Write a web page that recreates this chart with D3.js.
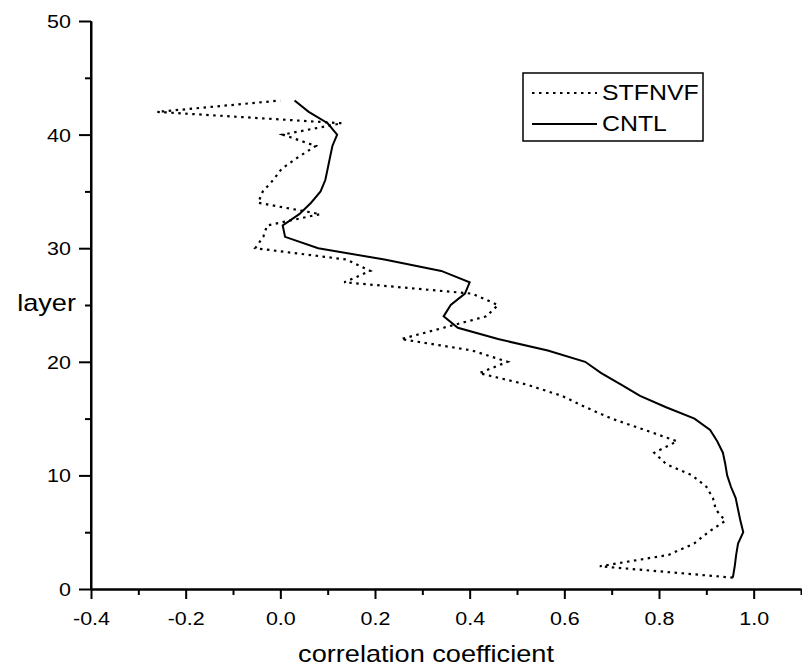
<!DOCTYPE html>
<html lang="en">
<head>
    <meta charset="UTF-8">
    <title>Correlation by layer</title>
    <script src="https://d3js.org/d3.v7.min.js"></script>
    <style>
        body { margin: 0; background: #fff; }
        svg { display: block; font-family: "Liberation Sans", Arial, sans-serif; }
    </style>
</head>
<body>
<svg id="chart"></svg>
<script>
    // layer numbers, bottom to top
    const layers = d3.range(1, 44);

    // correlation coefficient per layer (layer 1 .. 43)
    const cntl = [0.956, 0.96, 0.963, 0.967, 0.978, 0.972, 0.967, 0.962, 0.952, 0.944,
        0.94, 0.935, 0.923, 0.908, 0.875, 0.815, 0.76, 0.72, 0.678, 0.644,
        0.565, 0.46, 0.375, 0.345, 0.36, 0.39, 0.40, 0.34, 0.22, 0.08,
        0.01, 0.005, 0.04, 0.065, 0.085, 0.095, 0.10, 0.105, 0.11, 0.12,
        0.10, 0.06, 0.03];

    const stfnvf = [0.956, 0.675, 0.82, 0.874, 0.904, 0.94, 0.92, 0.914, 0.90, 0.87,
        0.815, 0.79, 0.838, 0.77, 0.70, 0.645, 0.595, 0.52, 0.42, 0.48,
        0.405, 0.255, 0.345, 0.435, 0.46, 0.405, 0.135, 0.19, 0.14, -0.053,
        -0.036, -0.028, 0.084, -0.047, -0.037, -0.015, 0.003, 0.037, 0.075, 0.005,
        0.13, -0.26, 0.0];

    const xMajor = [-0.4, -0.2, 0.0, 0.2, 0.4, 0.6, 0.8, 1.0];
    const xMinor = [-0.3, -0.1, 0.1, 0.3, 0.5, 0.7, 0.9, 1.1];
    const yMajor = [0, 10, 20, 30, 40, 50];
    const yMinor = [5, 15, 25, 35, 45];

    const seriesNames = ["STFNVF", "CNTL"];

    const width = 802, height = 670;
    const stretch = 1.13; // text in the original is a bit wide
    const dots = "2.5,4.5";

    const svg = d3.select("#chart").attr("width", width).attr("height", height);

    const x = d3.scaleLinear().domain([-0.4, 1.1]).range([91, 801]);
    const y = d3.scaleLinear().domain([0, 50]).range([589, 21]);

    const line = d3.line()
        .x(d => x(d.v))
        .y(d => y(d.layer));

    const cntlData = layers.map((l, i) => ({layer: l, v: cntl[i]}));
    const stfData = layers.map((l, i) => ({layer: l, v: stfnvf[i]}));

    svg.append("path").datum(stfData)
        .attr("fill", "none").attr("stroke", "#000")
        .attr("stroke-width", 2.2).attr("stroke-dasharray", dots)
        .attr("d", line);

    svg.append("path").datum(cntlData)
        .attr("fill", "none").attr("stroke", "#000")
        .attr("stroke-width", 2)
        .attr("d", line);

    // axes
    function styleAxis(g) {
        g.select(".domain").attr("stroke-width", 2);
        g.selectAll(".tick line").attr("stroke-width", 2);
    }

    // plain hyphen for negatives, like the original
    const fmt = d => d.toFixed(1);

    svg.append("g").attr("transform", "translate(0,589)")
        .call(d3.axisBottom(x).tickValues(xMinor).tickSize(6).tickFormat("").tickSizeOuter(0))
        .call(styleAxis);
    const xa = svg.append("g").attr("transform", "translate(0,589)")
        .call(d3.axisBottom(x).tickValues(xMajor).tickSize(10).tickSizeOuter(0).tickFormat(fmt))
        .call(styleAxis);
    xa.selectAll("text")
        .attr("font-size", 19).attr("font-family", "Liberation Sans, Arial, sans-serif")
        .attr("fill", "#000")
        .attr("y", 0).attr("dy", 0)
        .attr("transform", `translate(0,36) scale(${stretch},1)`);

    svg.append("g").attr("transform", "translate(91,0)")
        .call(d3.axisLeft(y).tickValues(yMinor).tickSize(6).tickFormat("").tickSizeOuter(0))
        .call(styleAxis);
    const ya = svg.append("g").attr("transform", "translate(91,0)")
        .call(d3.axisLeft(y).tickValues(yMajor).tickSize(12).tickSizeOuter(0))
        .call(styleAxis);
    ya.selectAll("text")
        .attr("font-size", 19).attr("font-family", "Liberation Sans, Arial, sans-serif")
        .attr("fill", "#000")
        .attr("x", 0).attr("dy", 0)
        .attr("transform", `translate(-20,6.5) scale(${stretch},1)`);
    ya.select(".domain").attr("d", `M0,${y(50)}V${y(0)}`);

    // axis titles
    svg.append("text")
        .attr("transform", "translate(426,662) scale(1.18,1)")
        .attr("text-anchor", "middle").attr("font-size", 23)
        .text("correlation coefficient");

    svg.append("text")
        .attr("transform", "translate(76,311) scale(1.18,1)")
        .attr("text-anchor", "end").attr("font-size", 23)
        .text("layer");

    // legend
    const legend = svg.append("g").attr("transform", "translate(523,73)");
    legend.append("rect")
        .attr("width", 180).attr("height", 68)
        .attr("fill", "#fff").attr("stroke", "#000").attr("stroke-width", 1.5);

    seriesNames.forEach((name, i) => {
        const row = legend.append("g").attr("transform", `translate(0,${20 + i * 31})`);
        row.append("line")
            .attr("x1", 9).attr("x2", 74)
            .attr("stroke", "#000").attr("stroke-width", 2)
            .attr("stroke-dasharray", i === 0 ? dots : null);
        row.append("text")
            .attr("transform", `translate(79,7) scale(${stretch},1)`)
            .attr("font-size", 22)
            .text(name);
    });
</script>
</body>
</html>
